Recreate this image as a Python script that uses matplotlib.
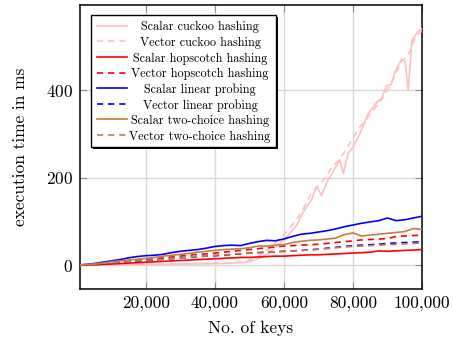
import matplotlib
matplotlib.use("Agg")
import matplotlib.pyplot as plt
from matplotlib.lines import Line2D
from matplotlib.patches import Rectangle
from matplotlib.ticker import FuncFormatter

plt.rcParams["font.family"] = ["cmr10", "DejaVu Serif"]
plt.rcParams["axes.formatter.use_mathtext"] = True
plt.rcParams["lines.scale_dashes"] = False

# Number of keys shared by the smoother series
keys = [1000, 2500, 5000, 7500, 10000, 12500, 15000, 17500, 20000, 22500,
        25000, 27500, 30000, 32500, 35000, 37500, 40000, 42500, 45000, 47500,
        50000, 52500, 55000, 57500, 60000, 62500, 65000, 67500, 70000, 72500,
        75000, 77500, 80000, 82500, 85000, 87500, 90000, 92500, 95000, 97500,
        100000]

scalar_hopscotch = [0, 1, 1, 2, 3, 4, 5, 6, 7, 8,
                    9, 10, 11, 12, 13, 14, 15, 16, 17, 18,
                    18, 19, 20, 21, 21, 22, 23, 24, 24, 25,
                    26, 27, 28, 29, 30, 33, 32, 33, 34, 35,
                    36]
vector_hopscotch = [1, 1, 3, 4, 6, 8, 10, 11, 13, 15,
                    17, 19, 21, 23, 25, 26, 28, 30, 32, 34,
                    36, 38, 40, 42, 44, 45, 46, 47, 48, 50,
                    52, 54, 56, 58, 59, 60, 61, 66, 67, 68,
                    69]
scalar_linear = [1, 2, 4, 7, 10, 13, 17, 20, 22, 23,
                 25, 29, 32, 34, 36, 39, 43, 45, 46, 45,
                 50, 54, 57, 56, 60, 66, 71, 73, 76, 79,
                 83, 88, 92, 96, 99, 102, 108, 102, 104, 108,
                 112]
vector_linear = [0, 1, 2, 3, 5, 6, 8, 9, 11, 12,
                 14, 15, 17, 18, 20, 21, 22, 23, 25, 26,
                 28, 29, 30, 31, 32, 33, 34, 35, 37, 39,
                 41, 43, 45, 46, 47, 48, 50, 51, 52, 53,
                 54]
scalar_two_choice = [1, 2, 3, 5, 8, 10, 12, 14, 16, 18,
                     21, 23, 25, 27, 30, 32, 34, 36, 37, 38,
                     40, 44, 44, 46, 47, 52, 55, 57, 58, 60,
                     62, 70, 74, 67, 69, 71, 73, 75, 77, 84,
                     82]
vector_two_choice = [0, 1, 2, 4, 5, 7, 8, 10, 11, 13,
                     14, 16, 17, 19, 20, 21, 23, 24, 25, 27,
                     28, 29, 30, 31, 32, 33, 34, 35, 37, 38,
                     40, 42, 43, 44, 45, 46, 47, 48, 49, 50,
                     51]

# Cuckoo hashing was sampled on its own key counts
cuckoo_keys_scalar = [1000, 10000, 20000, 30000, 40000, 45000, 48000, 50000,
                      52000, 54000, 56000, 58000, 60000, 62000, 64000, 65500,
                      66500, 68000, 69500, 70900, 72500, 74000, 76200, 77200,
                      78700, 80100, 82000, 84500, 86900, 88300, 89800, 91000,
                      92200, 94100, 95100, 96000, 97100, 99000, 100000]
scalar_cuckoo = [0, 1, 2, 3, 4, 5, 6, 9,
                 13, 20, 30, 45, 58, 75, 95, 120,
                 132, 150, 180, 159, 190, 210, 241, 210,
                 256, 271, 300, 347, 372, 382, 410, 412,
                 442, 470, 465, 400, 514, 535, 540]
cuckoo_keys_vector = [1000, 10000, 20000, 30000, 40000, 45000, 48000, 50000,
                      52000, 54000, 56000, 58000, 60000, 62000, 64000, 66000,
                      68000, 70000, 72000, 74000, 76000, 78000, 80000, 82000,
                      84000, 86000, 88000, 90000, 92000, 94000, 96000, 98000,
                      100000]
vector_cuckoo = [0, 1, 2, 3, 5, 6, 8, 12,
                 18, 28, 40, 55, 70, 88, 108, 135,
                 165, 180, 200, 225, 240, 265, 290, 315,
                 335, 355, 375, 400, 430, 465, 480, 520,
                 535]

x_ticks = [20000, 40000, 60000, 80000, 100000]
y_ticks = [0, 200, 400]

PINK = "#ffbfbf"
RED = "#ff0000"
BLUE = "#0000ff"
BROWN = "#bf8040"
DASH = (4.5, 3.5)
LW = 1.2

series = [
    ("Scalar cuckoo hashing", cuckoo_keys_scalar, scalar_cuckoo, PINK, False),
    ("Vector cuckoo hashing", cuckoo_keys_vector, vector_cuckoo, PINK, True),
    ("Scalar hopscotch hashing", keys, scalar_hopscotch, RED, False),
    ("Vector hopscotch hashing", keys, vector_hopscotch, RED, True),
    ("Scalar linear probing", keys, scalar_linear, BLUE, False),
    ("Vector linear probing", keys, vector_linear, BLUE, True),
    ("Scalar two-choice hashing", keys, scalar_two_choice, BROWN, False),
    ("Vector two-choice hashing", keys, vector_two_choice, BROWN, True),
]

W, H = 453, 340
fig = plt.figure(figsize=(W / 100, H / 100), dpi=100)
ax = fig.add_axes([80 / W, 1 - 289 / H, (422 - 80) / W, (289 - 5) / H])

for label, xs, ys, color, dashed in series:
    line, = ax.plot(xs, ys, color=color, lw=LW, zorder=3)
    if dashed:
        line.set_dashes(DASH)

ax.set_xlim(1000, 100000)
ax.set_ylim(-54, 594)
ax.set_xticks(x_ticks)
ax.set_yticks(y_ticks)
ax.xaxis.set_major_formatter(FuncFormatter(lambda v, p: f"{int(v):,}"))
ax.grid(True, color="#d9d9d9", lw=1.0, zorder=0)
ax.set_axisbelow(True)
ax.tick_params(direction="in", length=5.3, width=0.8, color="#8c8c8c",
               top=True, right=True, labelsize=12.5, pad=5)
for sp in ax.spines.values():
    sp.set_linewidth(1.1)
    sp.set_color("black")

ax.set_xlabel("No. of keys", fontsize=12.5, labelpad=7)
ax.set_ylabel("execution time in ms", fontsize=12.5, labelpad=13)

# Legend box with a small drop shadow, entries centred
def fx(px):
    return px / W

def fy(py):
    return 1 - py / H

bx0, by0, bx1, by1 = 91, 15, 276, 147
fig.add_artist(Rectangle((fx(bx0 + 1.5), fy(by1 + 1.5)), fx(bx1 - bx0), (by1 - by0) / H,
                         transform=fig.transFigure, facecolor="black",
                         edgecolor="none", zorder=9))
fig.add_artist(Rectangle((fx(bx0), fy(by1)), fx(bx1 - bx0), (by1 - by0) / H,
                         transform=fig.transFigure, facecolor="white",
                         edgecolor="black", lw=1.0, zorder=10))
rows = [25.7, 41, 57.3, 72.7, 88, 104, 119.3, 135]
for (label, xs, ys, color, dashed), py in zip(series, rows):
    h = Line2D([fx(97), fx(127)], [fy(py), fy(py)], transform=fig.transFigure,
               color=color, lw=LW, zorder=11)
    if dashed:
        h.set_dashes(DASH)
    fig.add_artist(h)
    fig.text(fx(200), fy(py), label, ha="center", va="center_baseline",
             fontsize=8.8, zorder=11)

fig.savefig("out.png", dpi=100)
